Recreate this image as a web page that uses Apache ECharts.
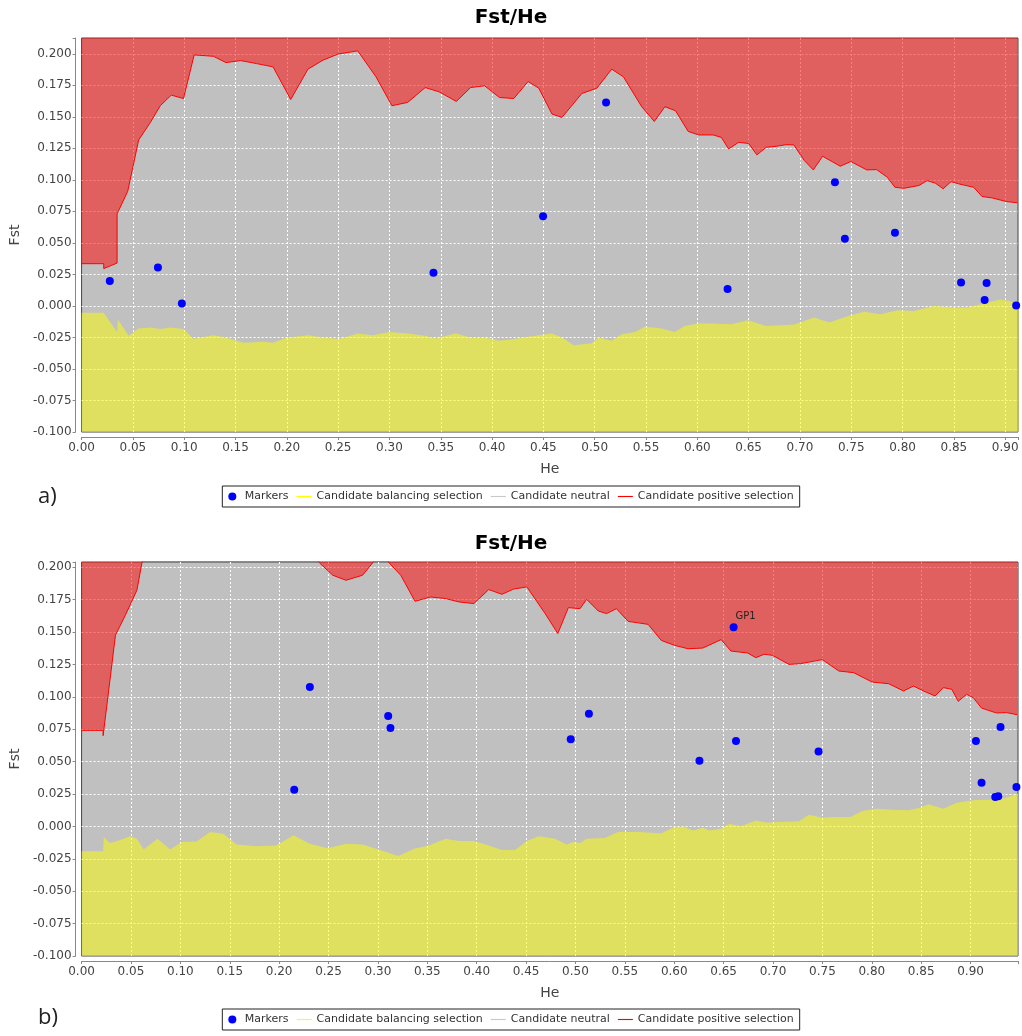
<!DOCTYPE html>
<html>
<head>
<meta charset="utf-8">
<title>Fst/He</title>
<script src="https://cdn.jsdelivr.net/npm/echarts@6/dist/echarts.min.js"></script>
<style>
  html, body { margin: 0; padding: 0; background: #ffffff; }
  #chart { width: 1022px; height: 1036px; }
</style>
</head>
<body>
<div id="chart"></div>
<script>
// Panel a) — upper envelope (positive selection threshold), [He, Fst]
const upperA = [
  [0.000, 0.0335], [0.0216, 0.0335], [0.0216, 0.0296], [0.0346, 0.034], [0.0346, 0.073],
  [0.045, 0.091], [0.0556, 0.1316], [0.067, 0.1455], [0.0767, 0.1588], [0.0874, 0.1672],
  [0.0993, 0.1645], [0.1097, 0.1991], [0.1284, 0.198], [0.1407, 0.193], [0.155, 0.1946],
  [0.1705, 0.1922], [0.1866, 0.1896], [0.2038, 0.1637], [0.2206, 0.1878], [0.2352, 0.1949],
  [0.2497, 0.1997], [0.2691, 0.2023], [0.2869, 0.1817], [0.3024, 0.1588], [0.3177, 0.1614],
  [0.3349, 0.1732], [0.3484, 0.1698], [0.3652, 0.1622], [0.3791, 0.1732], [0.3927, 0.1746],
  [0.4073, 0.1653], [0.4212, 0.1645], [0.4351, 0.178], [0.4455, 0.1727], [0.4584, 0.1522],
  [0.4681, 0.1495], [0.4875, 0.1685], [0.5021, 0.1727], [0.5166, 0.1878], [0.528, 0.1817],
  [0.5458, 0.158], [0.5581, 0.1463], [0.5684, 0.158], [0.5788, 0.1548], [0.5911, 0.1384],
  [0.6014, 0.1356], [0.6154, 0.1356], [0.6234, 0.1337], [0.6305, 0.1245], [0.6402, 0.1297],
  [0.6499, 0.1289], [0.6581, 0.1198], [0.6671, 0.1258], [0.6768, 0.1266], [0.6865, 0.1279],
  [0.694, 0.1277], [0.7043, 0.1153], [0.713, 0.1079], [0.7221, 0.1187], [0.7393, 0.1108],
  [0.7496, 0.1145], [0.7651, 0.1079], [0.7748, 0.1081], [0.7852, 0.102], [0.7926, 0.0941],
  [0.8013, 0.0933], [0.8159, 0.0955], [0.824, 0.0994], [0.8321, 0.0973], [0.8396, 0.0929],
  [0.8473, 0.0986], [0.8547, 0.0968], [0.8693, 0.0941], [0.8774, 0.0868], [0.8871, 0.0857],
  [0.901, 0.0828], [0.912, 0.0818]
];

// Panel a) — lower envelope (balancing selection threshold)
const lowerA = [
  [0.000, -0.0055], [0.0216, -0.0055], [0.0346, -0.0206], [0.0353, -0.0108], [0.0459, -0.0237],
  [0.0556, -0.0179], [0.067, -0.0171], [0.0767, -0.0184], [0.0864, -0.0171], [0.0993, -0.0184],
  [0.109, -0.0263], [0.1284, -0.0232], [0.1407, -0.025], [0.1575, -0.0293], [0.1769, -0.0285],
  [0.1866, -0.0293], [0.1996, -0.0253], [0.2206, -0.0232], [0.2352, -0.025], [0.2514, -0.0263],
  [0.2691, -0.0218], [0.2837, -0.0232], [0.2999, -0.0206], [0.3177, -0.0218], [0.3349, -0.0237],
  [0.3452, -0.0258], [0.3646, -0.0216], [0.3791, -0.0253], [0.3937, -0.025], [0.4067, -0.0277],
  [0.4228, -0.0263], [0.4293, -0.025], [0.4422, -0.0237], [0.4584, -0.0218], [0.4681, -0.025],
  [0.4795, -0.0311], [0.4972, -0.0297], [0.5037, -0.025], [0.5166, -0.0277], [0.5263, -0.0224],
  [0.5393, -0.0206], [0.549, -0.0166], [0.5652, -0.0179], [0.5781, -0.0206], [0.5878, -0.016],
  [0.6008, -0.0139], [0.6169, -0.0139], [0.6331, -0.0145], [0.6493, -0.0113], [0.6671, -0.016],
  [0.6817, -0.0153], [0.6946, -0.0147], [0.714, -0.0092], [0.7285, -0.0131], [0.7464, -0.0081],
  [0.7625, -0.0047], [0.7787, -0.0066], [0.7949, -0.0034], [0.8111, -0.004], [0.8305, 0.0],
  [0.8499, -0.0013], [0.8628, -0.0013], [0.879, 0.0019], [0.8952, 0.0051], [0.9049, 0.004],
  [0.913, -0.0008]
];

// Panel a) — loci
const markersA = [
  [0.0275, 0.0198], [0.0744, 0.0304], [0.0977, 0.0019], [0.3429, 0.0264], [0.4497, 0.0712],
  [0.5111, 0.1614], [0.6295, 0.0134], [0.7341, 0.0981], [0.7438, 0.0533], [0.7926, 0.058],
  [0.857, 0.0185], [0.88, 0.0047], [0.8819, 0.0182], [0.9107, 0.0003]
];

// Panel b) — upper envelope (part of it runs above the plotted range)
const upperB = [
  [0.000, 0.0741], [0.0218, 0.0741], [0.0218, 0.070], [0.0343, 0.1475], [0.0443, 0.1629],
  [0.056, 0.1822], [0.0611, 0.2033], [0.066, 0.222], [0.10, 0.235], [0.20, 0.232],
  [0.232, 0.215], [0.2409, 0.2033], [0.2543, 0.1938], [0.2677, 0.1899], [0.2845, 0.1938],
  [0.2946, 0.2033], [0.300, 0.212], [0.306, 0.212], [0.3114, 0.2033], [0.3231, 0.1938],
  [0.3376, 0.1737], [0.3534, 0.177], [0.3685, 0.1758], [0.382, 0.1732], [0.3971, 0.1719],
  [0.4122, 0.1827], [0.4256, 0.1791], [0.4374, 0.1831], [0.4508, 0.1848], [0.4693, 0.1642],
  [0.4821, 0.1488], [0.4928, 0.1688], [0.5046, 0.168], [0.5113, 0.1752], [0.5231, 0.1662],
  [0.5314, 0.1642], [0.5415, 0.168], [0.5533, 0.1582], [0.5735, 0.1559], [0.5869, 0.1435],
  [0.6003, 0.1397], [0.6138, 0.1371], [0.6289, 0.1376], [0.6474, 0.1441], [0.6574, 0.1353],
  [0.6743, 0.1338], [0.6826, 0.1302], [0.691, 0.1328], [0.6994, 0.132], [0.7162, 0.125],
  [0.728, 0.1256], [0.7499, 0.1287], [0.7666, 0.1199], [0.7817, 0.1186], [0.8002, 0.1114],
  [0.817, 0.1101], [0.8321, 0.1045], [0.8422, 0.1083], [0.8523, 0.1045], [0.864, 0.1006],
  [0.8724, 0.1071], [0.8809, 0.1058], [0.8875, 0.0965], [0.896, 0.1019], [0.9027, 0.0993],
  [0.9111, 0.0913], [0.9262, 0.0875], [0.9363, 0.0878], [0.947, 0.0862]
];

// Panel b) — lower envelope
const lowerB = [
  [0.000, -0.0191], [0.0218, -0.0191], [0.0225, -0.0083], [0.0285, -0.0129], [0.0376, -0.0108],
  [0.0494, -0.0077], [0.056, -0.0095], [0.0628, -0.0178], [0.0769, -0.0095], [0.0897, -0.0178],
  [0.1014, -0.0121], [0.1165, -0.0116], [0.13, -0.0044], [0.1434, -0.0056], [0.1568, -0.0139],
  [0.177, -0.0154], [0.1971, -0.0147], [0.2147, -0.0069], [0.2308, -0.0134], [0.2492, -0.0168],
  [0.2677, -0.0134], [0.2845, -0.0139], [0.3014, -0.018], [0.3208, -0.0229], [0.3366, -0.0172],
  [0.3517, -0.0147], [0.3685, -0.0095], [0.382, -0.0113], [0.3971, -0.0113], [0.4122, -0.0147],
  [0.4256, -0.0183], [0.439, -0.0183], [0.4508, -0.0113], [0.4626, -0.0077], [0.4793, -0.0095],
  [0.4911, -0.0139], [0.4979, -0.0121], [0.5046, -0.0129], [0.5113, -0.0095], [0.5297, -0.009],
  [0.5432, -0.0044], [0.5634, -0.0044], [0.5869, -0.0052], [0.6003, -0.0005], [0.6087, 0.0],
  [0.6188, -0.0031], [0.6289, -0.001], [0.6356, -0.0031], [0.6474, -0.0018], [0.6557, 0.0021],
  [0.6675, 0.0002], [0.6826, 0.0046], [0.6944, 0.0028], [0.7045, 0.0033], [0.7263, 0.0039],
  [0.7364, 0.009], [0.7499, 0.0067], [0.7615, 0.0072], [0.7784, 0.0072], [0.7902, 0.0118],
  [0.8053, 0.0137], [0.8204, 0.0129], [0.8371, 0.0124], [0.8489, 0.0144], [0.8573, 0.017],
  [0.8724, 0.0137], [0.8859, 0.0183], [0.9027, 0.0201], [0.9195, 0.0206], [0.9329, 0.0214],
  [0.948, 0.0252]
];

// Panel b) — loci, with names where a locus is labelled
const markersB = [
  [0.2153, 0.0283], [0.2311, 0.1075], [0.3104, 0.0851], [0.3127, 0.0759], [0.4952, 0.0672],
  [0.5136, 0.087], [0.6255, 0.0507], [0.6601, 0.1536], [0.6625, 0.0659], [0.7461, 0.0577],
  [0.9054, 0.0659], [0.9111, 0.0337], [0.925, 0.0226], [0.928, 0.0232], [0.9303, 0.0767],
  [0.9464, 0.0303]
];
const markerNamesB = ['', '', '', '', '', '', '', 'GP1', '', '', '', '', '', '', '', ''];

// Axis settings
const heTicks = 0.05;
const fstTicks = 0.025;
const axisRanges = [
  { heMax: 0.9125, fstMin: -0.1, fstMax: 0.2125 },
  { heMax: 0.948, fstMin: -0.1, fstMax: 0.204 }
];

const seriesNames = {
  markers: 'Markers',
  balancing: 'Candidate balancing selection',
  neutral: 'Candidate neutral',
  positive: 'Candidate positive selection'
};

const FONT = 'DejaVu Sans';
const LINE_ICON = 'path://M0,0H16V1.2H0Z';

function onTick(v, step) {
  return Math.abs(v / step - Math.round(v / step)) < 1e-6;
}

const gridLine = {
  show: true, showMinLine: false, showMaxLine: false,
  lineStyle: { color: '#ffffff', type: [2, 2], width: 1 }
};

function makeXAxis(i) {
  return {
    type: 'value', gridIndex: i, min: 0, max: axisRanges[i].heMax, interval: heTicks,
    offset: 5,
    name: 'He', nameLocation: 'middle', nameGap: 25,
    nameTextStyle: { fontFamily: FONT, fontSize: 14, color: '#444' },
    axisLine: { show: true, onZero: false, lineStyle: { color: '#888', width: 1 } },
    axisTick: { show: true, length: 3, lineStyle: { color: '#888' } },
    axisLabel: {
      fontFamily: FONT, fontSize: 12, color: '#444', margin: 5,
      formatter: v => onTick(v, heTicks) ? v.toFixed(2) : ''
    },
    splitLine: gridLine
  };
}

function makeYAxis(i) {
  return {
    type: 'value', gridIndex: i, min: axisRanges[i].fstMin, max: axisRanges[i].fstMax,
    interval: fstTicks, offset: 6,
    name: 'Fst', nameLocation: 'middle', nameGap: 50, nameRotate: 90,
    nameTextStyle: { fontFamily: FONT, fontSize: 14, color: '#444' },
    axisLine: { show: true, onZero: false, lineStyle: { color: '#888', width: 1 } },
    axisTick: { show: true, length: 3, lineStyle: { color: '#888' } },
    axisLabel: {
      fontFamily: FONT, fontSize: 12, color: '#444', margin: 4,
      formatter: v => onTick(v, fstTicks) ? v.toFixed(3) : ''
    },
    splitLine: gridLine
  };
}

function panelSeries(i, upper, lower, markers, names) {
  return [
    {
      name: seriesNames.positive, type: 'line', xAxisIndex: i, yAxisIndex: i,
      data: upper, symbol: 'none', clip: true, z: 2,
      lineStyle: { color: '#ff0000', width: 1 },
      itemStyle: { color: '#ff0000' },
      areaStyle: { color: 'rgba(255,0,0,0.5)', origin: 'end', opacity: 1 }
    },
    {
      name: seriesNames.balancing, type: 'line', xAxisIndex: i, yAxisIndex: i,
      data: lower, symbol: 'none', clip: true, z: 2,
      lineStyle: { color: '#ffff00', width: 0 },
      itemStyle: { color: '#ffff00' },
      areaStyle: { color: 'rgba(255,255,0,0.5)', origin: 'start', opacity: 1 }
    },
    {
      name: seriesNames.neutral, type: 'line', xAxisIndex: i, yAxisIndex: i,
      data: [], symbol: 'none',
      lineStyle: { color: '#c8c8c8', width: 1 },
      itemStyle: { color: '#c8c8c8' }
    },
    {
      name: seriesNames.markers, type: 'scatter', xAxisIndex: i, yAxisIndex: i,
      z: 4, symbol: 'circle', symbolSize: 8,
      itemStyle: { color: '#0000ff', opacity: 1 },
      data: markers.map((p, k) => {
        const label = names && names[k];
        return label
          ? { value: p, name: label,
              label: { show: true, formatter: label, position: 'top', distance: 2, offset: [12, 0],
                       fontFamily: FONT, fontSize: 10, color: '#222' } }
          : { value: p };
      })
    }
  ];
}

function makeLegend(top) {
  return {
    top: top, left: 'center', orient: 'horizontal', selectedMode: false,
    padding: [5, 6], itemGap: 8, itemWidth: 15, itemHeight: 8,
    borderColor: '#222', borderWidth: 1, backgroundColor: '#ffffff',
    itemStyle: { borderWidth: 0, opacity: 1 },
    textStyle: { fontFamily: FONT, fontSize: 11, color: '#333' },
    data: [
      { name: seriesNames.markers, icon: 'circle' },
      { name: seriesNames.balancing, icon: LINE_ICON },
      { name: seriesNames.neutral, icon: LINE_ICON },
      { name: seriesNames.positive, icon: LINE_ICON }
    ]
  };
}

const chart = echarts.init(document.getElementById('chart'), null, { renderer: 'canvas' });

chart.setOption({
  animation: false,
  backgroundColor: '#ffffff',
  title: [
    { text: 'Fst/He', left: 'center', top: 8, padding: 0,
      textStyle: { fontFamily: FONT, fontSize: 20, fontWeight: 'bold', color: '#000' } },
    { text: 'Fst/He', left: 'center', top: 534, padding: 0,
      textStyle: { fontFamily: FONT, fontSize: 20, fontWeight: 'bold', color: '#000' } },
    { text: 'a)', left: 38, top: 486, padding: 0,
      textStyle: { fontFamily: 'Open Sans', fontSize: 22, fontWeight: 'normal', color: '#222' } },
    { text: 'b)', left: 38, top: 1007, padding: 0,
      textStyle: { fontFamily: 'Open Sans', fontSize: 22, fontWeight: 'normal', color: '#222' } }
  ],
  legend: [makeLegend(486), makeLegend(1009)],
  grid: [
    { left: 78, top: 38, width: 940, height: 394, show: true,
      backgroundColor: '#c0c0c0', borderColor: '#444', borderWidth: 1 },
    { left: 78, top: 562, width: 940, height: 394, show: true,
      backgroundColor: '#c0c0c0', borderColor: '#444', borderWidth: 1 }
  ],
  xAxis: [makeXAxis(0), makeXAxis(1)],
  yAxis: [makeYAxis(0), makeYAxis(1)],
  series: [
    ...panelSeries(0, upperA, lowerA, markersA, null),
    ...panelSeries(1, upperB, lowerB, markersB, markerNamesB)
  ]
});
</script>
</body>
</html>
